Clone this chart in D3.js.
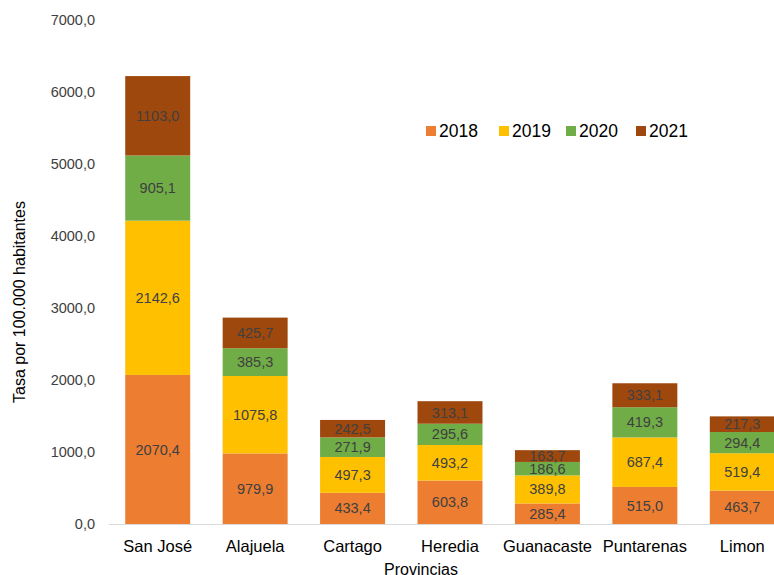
<!DOCTYPE html>
<html>
<head>
<meta charset="utf-8">
<title>Tasa por provincia</title>
<script src="https://d3js.org/d3.v7.min.js"></script>
<style>
  body { margin: 0; background: #fff; }
  svg text { font-family: "Liberation Sans", Arial, sans-serif; }
</style>
</head>
<body>
<script>
// data
var provincias = ["San José", "Alajuela", "Cartago", "Heredia", "Guanacaste", "Puntarenas", "Limon"];
var years = ["2018", "2019", "2020", "2021"];
var v2018 = [2070.4, 979.9, 433.4, 603.8, 285.4, 515.0, 463.7];
var v2019 = [2142.6, 1075.8, 497.3, 493.2, 389.8, 687.4, 519.4];
var v2020 = [905.1, 385.3, 271.9, 295.6, 186.6, 419.3, 294.4];
var v2021 = [1103.0, 425.7, 242.5, 313.1, 163.7, 333.1, 217.3];
var yTicks = [0, 1000, 2000, 3000, 4000, 5000, 6000, 7000];
var colors = ["#ED7D31", "#FFC000", "#70AD47", "#9E480E"];

var width = 774, height = 575;
var fmt = function(d) { return d.toFixed(1).replace(".", ","); };

// build rows for d3.stack
var rows = provincias.map(function(p, i) {
    return { prov: p, "2018": v2018[i], "2019": v2019[i], "2020": v2020[i], "2021": v2021[i] };
});
var series = d3.stack().keys(years)(rows);

var svg = d3.select("body").append("svg")
    .attr("width", width)
    .attr("height", height);

var x = d3.scaleBand()
    .domain(provincias)
    .range([109, 791])
    .paddingInner(0.333)
    .paddingOuter(0.1665);

var y = d3.scaleLinear()
    .domain([0, 7000])
    .range([524, 20]);

// y tick labels (no axis line)
svg.append("g").selectAll("text")
    .data(yTicks)
    .enter().append("text")
    .attr("x", 95)
    .attr("y", function(d) { return y(d); })
    .attr("dy", "0.35em")
    .attr("text-anchor", "end")
    .attr("font-size", "14.5px")
    .attr("fill", "#404040")
    .text(fmt);

// baseline
svg.append("line")
    .attr("x1", 109).attr("x2", width)
    .attr("y1", y(0) + 0.5).attr("y2", y(0) + 0.5)
    .attr("stroke", "#d9d9d9")
    .attr("stroke-width", 1);

var layer = svg.selectAll("g.layer")
    .data(series)
    .enter().append("g")
    .attr("class", "layer")
    .attr("fill", function(d, i) { return colors[i]; });

layer.selectAll("rect")
    .data(function(d) { return d; })
    .enter().append("rect")
    .attr("x", function(d) { return x(d.data.prov); })
    .attr("width", x.bandwidth())
    .attr("y", function(d) { return y(d[1]); })
    .attr("height", function(d) { return y(d[0]) - y(d[1]); });

layer.selectAll("text")
    .data(function(d) { return d.map(function(s) { return { s: s, key: d.key }; }); })
    .enter().append("text")
    .attr("x", function(d) { return x(d.s.data.prov) + x.bandwidth() / 2; })
    .attr("y", function(d) { return (y(d.s[0]) + y(d.s[1])) / 2; })
    .attr("dy", "0.35em")
    .attr("text-anchor", "middle")
    .attr("font-size", "14.5px")
    .attr("fill", "#404040")
    .text(function(d) { return fmt(d.s.data[d.key]); });

// category labels
svg.append("g").selectAll("text")
    .data(provincias)
    .enter().append("text")
    .attr("x", function(d) { return x(d) + x.bandwidth() / 2; })
    .attr("y", 546)
    .attr("dy", "0.35em")
    .attr("text-anchor", "middle")
    .attr("font-size", "16.5px")
    .attr("fill", "#000")
    .text(function(d) { return d; });

// axis titles
svg.append("text")
    .attr("x", 421).attr("y", 569)
    .attr("dy", "0.35em")
    .attr("text-anchor", "middle")
    .attr("font-size", "16px")
    .attr("fill", "#000")
    .text("Provincias");

svg.append("text")
    .attr("transform", "translate(19,302) rotate(-90)")
    .attr("dy", "0.35em")
    .attr("text-anchor", "middle")
    .attr("font-size", "16px")
    .attr("fill", "#000")
    .text("Tasa por 100.000 habitantes");

// legend
var legendX = [426, 499, 566, 636];
var legend = svg.selectAll("g.legend")
    .data(years)
    .enter().append("g")
    .attr("class", "legend")
    .attr("transform", function(d, i) { return "translate(" + legendX[i] + ",131)"; });

legend.append("rect")
    .attr("x", 0).attr("y", -5)
    .attr("width", 10).attr("height", 10)
    .attr("fill", function(d, i) { return colors[i]; });

legend.append("text")
    .attr("x", 13)
    .attr("dy", "0.35em")
    .attr("font-size", "17.5px")
    .attr("fill", "#000")
    .text(function(d) { return d; });
</script>
</body>
</html>
